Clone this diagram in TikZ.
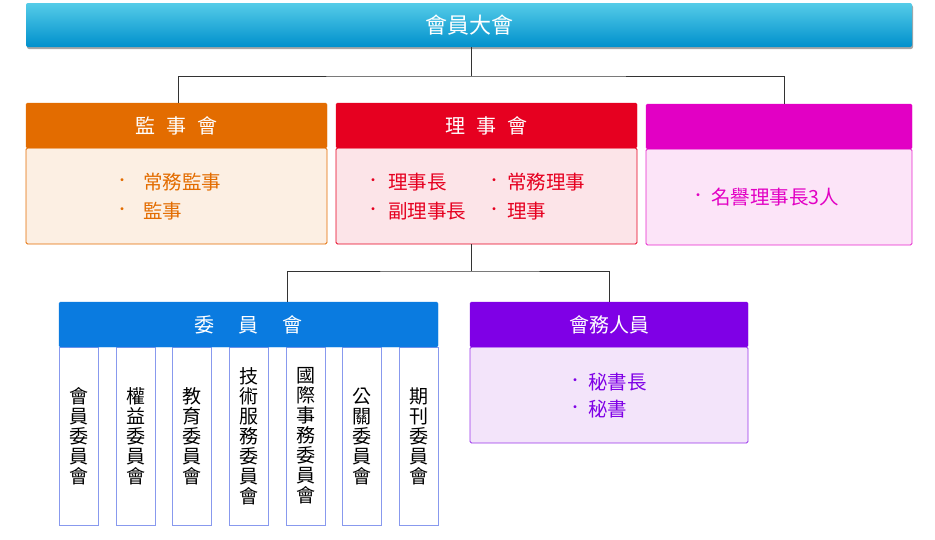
\documentclass[tikz,border=0pt]{standalone}
\usepackage{fontspec}
\setmainfont{Noto Sans CJK TC}
\usetikzlibrary{shadows}
\definecolor{topA}{HTML}{55CCE8}
\definecolor{topB}{HTML}{0090CC}
\definecolor{orgH}{HTML}{E36C00}
\definecolor{orgB}{HTML}{FCEFE3}
\definecolor{redH}{HTML}{E60020}
\definecolor{redB}{HTML}{FCE4E8}
\definecolor{magH}{HTML}{E200C4}
\definecolor{magB}{HTML}{FCE4F8}
\definecolor{bluH}{HTML}{0A7BE0}
\definecolor{colB}{HTML}{8899EE}
\definecolor{purH}{HTML}{7F00E6}
\definecolor{purB}{HTML}{F3E4FA}
\definecolor{lineC}{HTML}{333333}
\begin{document}
\begin{tikzpicture}[x=1pt,y=-1pt,
  hdr/.style={anchor=north west, inner sep=0pt, outer sep=0pt, minimum height=45pt,
     rounded corners=1.5pt, text=white, font=\fontsize{20}{22}\selectfont},
  bdy/.style={anchor=north west, inner sep=0pt, outer sep=0pt, rounded corners=1.5pt, line width=0.8pt},
  itm/.style={anchor=west, inner sep=0pt, font=\fontsize{19.5}{21}\selectfont},
  bul/.style={anchor=center, inner sep=0pt, font=\fontsize{14}{16}\selectfont},
  col/.style={anchor=north west, inner sep=0pt, outer sep=0pt, draw=colB, fill=white,
     line width=0.8pt, minimum width=39pt, minimum height=178pt},
  vtxt/.style={anchor=center, inner sep=0pt, align=center, font=\fontsize{19}{20}\selectfont},
  conn/.style={draw=lineC, line width=0.9pt}]
\useasboundingbox (0,0) rectangle (935,539);

% top box
\node[anchor=north west, inner sep=0pt, outer sep=0pt, minimum width=886pt, minimum height=44pt,
  rounded corners=2pt, top color=topA, bottom color=topB, text=white,
  drop shadow={shadow xshift=1pt, shadow yshift=-2pt, opacity=0.35, fill=black},
  font=\fontsize{22}{24}\selectfont] (top) at (26,3) {會員大會};

% 監事會
\node[bdy, draw=orgH, fill=orgB, minimum width=301pt, minimum height=96pt] (jb) at (26,148) {};
\node[hdr, fill=orgH, draw=orgH, minimum width=301pt] (jh) at (26,103) {監\hspace{0.55em}事\hspace{0.55em}會};
\node[bul, text=orgH] (jb1) at (122,182) {・};
\node[itm, text=orgH] (jt1) at (143,182) {常務監事};
\node[bul, text=orgH] (jb2) at (122,211) {・};
\node[itm, text=orgH] (jt2) at (143,211) {監事};

% 理事會
\node[bdy, draw=redH, fill=redB, minimum width=301pt, minimum height=96pt] (lb) at (336,148) {};
\node[hdr, fill=redH, draw=redH, minimum width=301pt] (lh) at (336,103) {理\hspace{0.55em}事\hspace{0.55em}會};
\node[bul, text=redH] (lb1) at (373,182) {・};
\node[itm, text=redH] (lt1) at (388,182) {理事長};
\node[bul, text=redH] (lb2) at (373,211) {・};
\node[itm, text=redH] (lt2) at (388,211) {副理事長};
\node[bul, text=redH] (lb3) at (494,182) {・};
\node[itm, text=redH] (lt3) at (507,182) {常務理事};
\node[bul, text=redH] (lb4) at (494,211) {・};
\node[itm, text=redH] (lt4) at (507,211) {理事};

% 名譽
\node[bdy, draw=magH!85, fill=magB, minimum width=266pt, minimum height=96pt] (mb) at (646,149) {};
\node[hdr, fill=magH, draw=magH, minimum width=266pt] (mh) at (646,104) {};
\node[bul, text=magH] (mb1) at (698,197) {・};
\node[itm, text=magH] (mt1) at (711,197) {名譽理事長3人};

% connectors top
\coordinate (j1) at (471,76);
\coordinate (ja) at (178,103);
\coordinate (jc) at (784,104);
\draw[conn] (j1 |- top.south) -- (j1);
\draw[conn] (ja) |- (j1) -| (jc);

% 委員會
\foreach \i/\x in {1/59,2/116,3/172.7,4/229.3,5/286.7,6/342.7,7/399.3}{
  \node[col] (c\i) at (\x,347) {};
}
\node[hdr, fill=bluH, draw=bluH, minimum width=379pt] (wh) at (59,302) {委\hspace{1.2em}員\hspace{1.2em}會};
\node[vtxt] (v1) at (c1.center) {會\\員\\委\\員\\會};
\node[vtxt] (v2) at (c2.center) {權\\益\\委\\員\\會};
\node[vtxt] (v3) at (c3.center) {教\\育\\委\\員\\會};
\node[vtxt] (v4) at (c4.center) {技\\術\\服\\務\\委\\員\\會};
\node[vtxt] (v5) at (c5.center) {國\\際\\事\\務\\委\\員\\會};
\node[vtxt] (v6) at (c6.center) {公\\關\\委\\員\\會};
\node[vtxt] (v7) at (c7.center) {期\\刊\\委\\員\\會};

% 會務人員
\node[bdy, draw=purH!80, fill=purB, minimum width=278pt, minimum height=96pt] (sb) at (470,347) {};
\node[hdr, fill=purH, draw=purH, minimum width=278pt] (sh) at (470,302) {會務人員};
\node[bul, text=purH] (sb1) at (575,382) {・};
\node[itm, text=purH] (st1) at (588,382) {秘書長};
\node[bul, text=purH] (sb2) at (575,409) {・};
\node[itm, text=purH] (st2) at (588,409) {秘書};

% connectors lower
\coordinate (j2) at (471,271);
\coordinate (wtop) at (287,302);
\draw[conn] (j2 |- lb.south) -- (j2);
\draw[conn] (wtop) |- (j2) -| (sh.north);
\end{tikzpicture}
\end{document}
